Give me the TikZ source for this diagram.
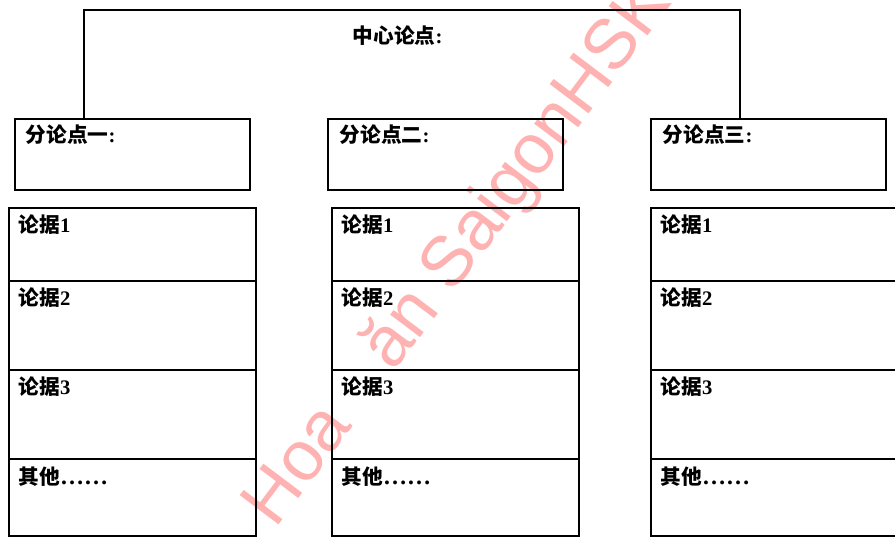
\documentclass[tikz,border=0pt]{standalone}
\usepackage{fontspec}
\setmainfont{Liberation Serif}
\newfontfamily\cjk{Noto Sans CJK SC}
\newfontfamily\wmfont{Liberation Sans}
\begin{document}
\begin{tikzpicture}[x=0.75pt,y=-0.75pt, line width=1.3pt,
  box/.style={draw, rectangle, anchor=north west, inner sep=0pt},
  subbox/.style={box, minimum width=176.25pt, minimum height=53.25pt},
  lbl/.style={anchor=west, inner sep=0pt, font=\fontsize{15.5}{18}\selectfont\bfseries}]
\useasboundingbox (0,0) rectangle (895,536);

% watermark
\node[rotate=53, text=red!30, font=\wmfont\fontsize{53}{60}\selectfont, anchor=base, inner sep=0pt] (wm) at (474,266) {Hoa \phantom{V}ăn SaigonHSK};

% central bracket
\coordinate (tl) at (84,10);
\coordinate (tr) at (740,10);
\node[lbl] (center) at (352,36) {{\cjk 中心论点}:};

% sub-point boxes
\node[subbox] (s1) at (14,118) {};
\node[subbox] (s2) at (327,118) {};
\node[subbox] (s3) at (650,118) {};
\draw (s1.north west -| tl) -- (tl) -- (tr) -- (s3.north west -| tr);

\node[lbl] (s1t) at (25,135) {{\cjk 分论点一}:};
\node[lbl] (s2t) at (339,135) {{\cjk 分论点二}:};
\node[lbl] (s3t) at (662,135) {{\cjk 分论点三}:};

% evidence columns
\foreach \c/\x/\tx in {a/8/18, b/331/341, c/650/660}{
  \node[box, minimum width=185.25pt, minimum height=54.75pt] (\c1) at (\x,207) {};
  \node[box, minimum width=185.25pt, minimum height=66.75pt] (\c2) at (\x,280) {};
  \node[box, minimum width=185.25pt, minimum height=66.75pt] (\c3) at (\x,369) {};
  \node[box, minimum width=185.25pt, minimum height=57.75pt] (\c4) at (\x,458) {};
  \node[lbl] (\c1t) at (\tx,225) {{\cjk 论据}1};
  \node[lbl] (\c2t) at (\tx,298) {{\cjk 论据}2};
  \node[lbl] (\c3t) at (\tx,387) {{\cjk 论据}3};
  \node[lbl] (\c4t) at (\tx,477) {{\cjk 其他}{\fontsize{18}{18}\selectfont ……}};
}
\end{tikzpicture}
\end{document}
